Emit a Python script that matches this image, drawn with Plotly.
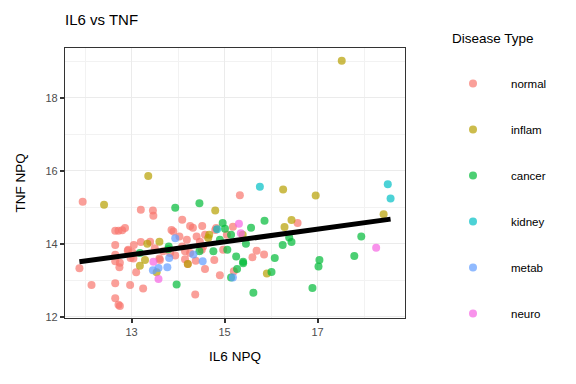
import numpy as np
import plotly.graph_objects as go

groups = ["normal", "inflam", "cancer", "kidney", "metab", "neuro"]
colors = ["#F8766D", "#B79F00", "#00BA38", "#00BFC4", "#619CFF", "#F564E3"]

normal_x = [11.95, 13.2, 13.46, 13.47, 15.33, 14.09, 14.26, 14.32, 14.52, 14.82, 15.18, 16.57, 15.20, 15.60,
            15.69, 15.85, 14.97, 14.78, 14.90, 14.38, 14.21, 14.15, 14.58, 14.37, 14.09, 14.19, 14.03, 13.86,
            13.90, 13.94, 13.60, 13.25, 12.97, 12.65, 12.14, 11.88, 12.65, 12.72, 12.74, 12.65, 12.75, 12.65,
            12.65, 12.93, 12.65, 12.72, 12.80, 12.86, 13.20, 13.40, 13.05, 12.92, 13.04, 13.10, 12.98, 13.02,
            13.50, 13.68, 13.61, 13.83, 14.15, 14.47, 14.54, 14.40, 14.58, 14.80, 15.05, 14.26, 14.51, 12.75]
normal_y = [15.15, 14.93, 14.91, 14.77, 15.33, 14.66, 14.49, 14.44, 14.49, 14.43, 14.47, 14.57, 13.25, 13.63,
            13.81, 13.71, 13.84, 13.56, 13.14, 13.54, 13.45, 13.58, 13.31, 12.61, 13.93, 14.11, 14.20, 14.38,
            14.34, 13.68, 13.60, 12.78, 12.87, 12.92, 12.87, 13.33, 12.51, 12.33, 13.36, 13.52, 13.48, 13.70,
            13.97, 13.84, 14.36, 14.36, 14.37, 14.43, 14.05, 14.06, 13.97, 13.81, 13.60, 13.22, 13.61, 13.76,
            13.88, 13.80, 13.56, 13.75, 13.80, 14.06, 13.93, 14.20, 14.25, 14.38, 14.25, 13.75, 13.84, 12.30]

inflam_x = [13.36, 12.41, 14.80, 16.26, 16.96, 18.42, 16.44, 16.29, 15.91, 15.39, 14.21, 13.60, 13.34, 13.29,
            13.18, 14.67, 14.65, 17.52, 13.54]
inflam_y = [15.86, 15.07, 14.91, 15.49, 15.32, 14.81, 14.65, 14.46, 13.19, 14.25, 13.45, 14.06, 14.00, 13.56,
            13.40, 14.25, 14.16, 19.01, 13.22]

cancer_x = [13.94, 14.46, 14.96, 15.01, 15.57, 15.86, 16.39, 16.44, 16.25, 17.94, 17.79, 17.04, 17.02, 16.89,
            16.08, 16.01, 15.62, 15.40, 15.25, 15.27, 15.14, 15.46, 15.14, 15.06, 14.76, 13.97, 13.79, 14.90,
            14.46, 13.18, 13.80, 15.40]
cancer_y = [14.99, 15.11, 14.57, 14.41, 14.44, 14.63, 14.17, 14.05, 13.97, 14.20, 13.67, 13.56, 13.38, 12.79,
            13.61, 13.23, 12.66, 13.51, 13.65, 13.31, 13.08, 14.00, 14.25, 13.84, 13.80, 12.89, 13.85, 14.11,
            13.80, 13.75, 13.93, 13.47]

kidney_x = [15.76, 18.51, 18.57, 14.84]
kidney_y = [15.56, 15.63, 15.24, 14.40]

metab_x = [13.94, 14.33, 14.53, 13.81, 13.77, 13.46, 13.58, 15.18]
metab_y = [14.15, 13.71, 13.52, 13.61, 13.36, 13.28, 13.34, 13.08]

neuro_x = [15.31, 18.26, 13.47, 13.58, 15.35]
neuro_y = [14.55, 13.89, 13.51, 13.04, 14.29]

xs = [normal_x, inflam_x, cancer_x, kidney_x, metab_x, neuro_x]
ys = [normal_y, inflam_y, cancer_y, kidney_y, metab_y, neuro_y]

fig = go.Figure()
for g, c, x, y in zip(groups, colors, xs, ys):
    fig.add_trace(go.Scatter(
        x=x, y=y, mode="markers", name=g, legendgroup=g,
        marker=dict(color=c, size=8, opacity=0.7, line=dict(width=0)),
    ))

all_x = np.concatenate([np.array(v) for v in xs])
all_y = np.concatenate([np.array(v) for v in ys])
slope, intercept = np.polyfit(all_x, all_y, 1)
lx = np.array([all_x.min(), all_x.max()])
fig.add_trace(go.Scatter(x=lx, y=slope * lx + intercept, mode="lines",
                         line=dict(color="black", width=5), showlegend=False, hoverinfo="skip"))

# page body adds an 8px offset; compensate in container coordinates
OFF = 8
L, T, PW, PH = 65 - OFF, 48 - OFF, 340, 270

font_family = "Liberation Sans, Arial, sans-serif"
axis_common = dict(
    showline=True, mirror=True, linecolor="#333333", linewidth=1.2,
    ticks="outside", ticklen=4, tickwidth=1.5, tickcolor="#333333",
    tickfont=dict(size=11, color="#4D4D4D", family=font_family),
    showgrid=True, gridcolor="#EBEBEB", gridwidth=1.3, zeroline=False,
    automargin=False,
)
fig.update_layout(
    width=576, height=384,
    margin=dict(l=L, r=576 - L - PW, t=T, b=384 - T - PH),
    paper_bgcolor="white", plot_bgcolor="white",
    font=dict(family=font_family, color="black"),
    title=dict(text="IL6 vs TNF", x=(65 - OFF) / 576, xanchor="left", xref="container",
               y=1 - (20 - OFF) / 384, yanchor="middle", yref="container",
               font=dict(size=15, color="black", family=font_family), automargin=False),
    xaxis=dict(range=[11.57, 18.88], tick0=13, dtick=2,
               minor=dict(dtick=1, tick0=12, showgrid=True, gridcolor="#F2F2F2", gridwidth=0.8, ticks=""),
               title=dict(text="IL6 NPQ", font=dict(size=13.5, color="black"), standoff=14),
               **axis_common),
    yaxis=dict(range=[11.97, 19.36], tick0=12, dtick=2,
               minor=dict(dtick=1, tick0=13, showgrid=True, gridcolor="#F2F2F2", gridwidth=0.8, ticks=""),
               title=dict(text="TNF NPQ", font=dict(size=13.5, color="black"), standoff=16),
               **axis_common),
    legend=dict(xref="container", yref="container", x=(435 - OFF) / 576, xanchor="left",
                y=1 - (69 - OFF) / 384, yanchor="top", maxheight=1,
                font=dict(size=11.5, color="black"), tracegroupgap=27, itemwidth=66,
                bgcolor="rgba(0,0,0,0)"),
    showlegend=True,
    annotations=[dict(text="Disease Type", xref="paper", yref="paper",
                      x=(450 - OFF - L) / PW, y=1 + (T - (38 - OFF)) / PH,
                      xanchor="left", yanchor="middle", showarrow=False,
                      font=dict(size=13.5, color="black", family=font_family))],
)

fig.write_html("out.html")
